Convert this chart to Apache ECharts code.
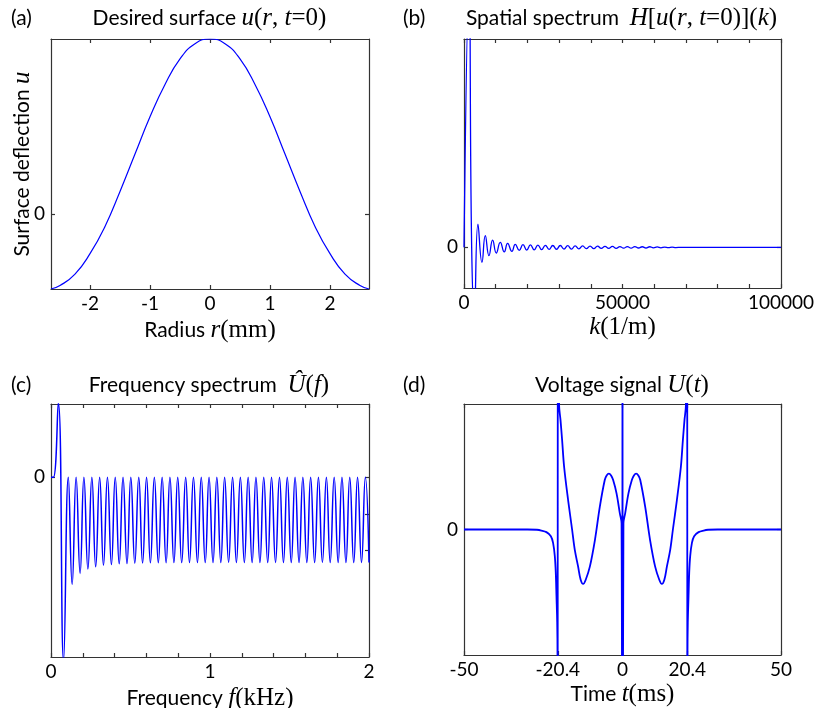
<!DOCTYPE html>
<html><head><meta charset="utf-8">
<script src="https://cdn.jsdelivr.net/npm/echarts@6/dist/echarts.min.js"></script>
<style>html,body{margin:0;padding:0;background:#fff}#c{width:814px;height:708px}</style>
</head><body><div id="c"></div>
<script>
// (a) Desired surface u(r, t=0)
const rA = [-2.65,-2.5,-2.25,-2.0,-1.75,-1.5,-1.25,-1.0,-0.75,-0.5,-0.25,0,
            0.25,0.5,0.75,1.0,1.25,1.5,1.75,2.0,2.25,2.5,2.65];
const uA = [-0.43,-0.41,-0.345,-0.228,-0.072,0.128,0.342,0.555,0.740,0.886,0.973,1.0,
            0.973,0.886,0.740,0.555,0.342,0.128,-0.072,-0.228,-0.345,-0.41,-0.43];
// (b) Spatial spectrum H[u](k)
const kB = [0,1575,2420,3255,4410,5670,6720,7875,9030,10185,11445,12705,13755,15120,16170,17430,
            18606,19782,20958,22134,23310,24486,25662,26838,28014,29190,30366,31542,32718,33894,35070,36246,
            37422,38598,39774,40950,42126,43302,44478,45654,46830,48006,49182,50358,51534,52710,53886,55062,
            56238,57414,58590,59766,60942,62118,63294,64470,65646,66822,68500,100000];
const hB = [0,1.25,0,-0.32,0.112,-0.072,0.056,-0.040,0.035,-0.027,0.024,-0.022,0.019,-0.019,0.0144,-0.0144,
            0.013,-0.013,0.012,-0.012,0.011,-0.011,0.010,-0.010,0.009,-0.009,0.009,-0.008,0.008,-0.008,0.007,-0.007,
            0.007,-0.006,0.006,-0.006,0.006,-0.005,0.005,-0.005,0.005,-0.005,0.004,-0.004,0.004,-0.004,0.004,-0.003,
            0.003,-0.003,0.003,-0.002,0.002,-0.002,0.0015,-0.0015,0.001,-0.001,0,0];
// (c) Frequency spectrum U^(f)
const fC = [0,0.015,0.046,0.079,
  0.109,0.133,0.158,0.183,0.207,0.232,0.257,0.281,0.306,0.330,0.355,0.380,0.404,0.429,0.453,0.478,
  0.502,0.527,0.552,0.576,0.601,0.625,0.650,0.675,0.699,0.724,0.748,0.773,0.797,0.822,0.847,0.871,
  0.896,0.921,0.945,0.970,0.994,1.019,1.043,1.068,1.092,1.117,1.142,1.166,1.191,1.216,1.240,1.265,
  1.289,1.314,1.338,1.363,1.387,1.412,1.437,1.462,1.486,1.511,1.535,1.560,1.584,1.609,1.633,1.658,
  1.682,1.707,1.732,1.756,1.781,1.806,1.830,1.855,1.879,1.904,1.928,1.953,1.977,2.0];
const uC = [0,0,1.02,-2.5,
  0,-1.46,0,-1.31,0,-1.25,0,-1.22,0,-1.20,0,-1.19,0,-1.18,0,-1.175,0,-1.17,0,-1.168,
  0,-1.166,0,-1.165,0,-1.164,0,-1.163,0,-1.163,0,-1.162,0,-1.162,0,-1.161,0,-1.161,0,-1.16,
  0,-1.16,0,-1.16,0,-1.16,0,-1.16,0,-1.16,0,-1.16,0,-1.16,0,-1.16,0,-1.16,0,-1.16,
  0,-1.16,0,-1.16,0,-1.16,0,-1.16,0,-1.16,0,-1.16,0,-1.16,0,-1.16,0,-1.16];
// (d) Voltage signal U(t)
const tD = [-50,-40,-30,-27,-25.6,-24.0,-22.6,-21.9,-21.36,-21.04,-20.83,-20.6,-20.5,-20.45,-20.4,-20.0,-19.56,-19.05,
  -18.42,-17.16,-15.9,-15.05,-14.0,-13.2,-12.4,-11.6,-10.3,-8.7,-7.15,-5.6,-5.0,-4.3,-3.6,-2.95,-1.88,-0.84,-0.3,-0.08,0,
  0.08,0.3,0.84,1.88,2.95,3.6,4.3,5.0,5.6,7.15,8.7,10.3,11.6,12.4,13.2,14.0,15.05,15.9,17.16,18.42,19.05,19.56,20.0,20.4,20.45,
  20.5,20.6,20.83,21.04,21.36,21.9,22.6,24.0,25.6,27,30,40,50];
const uD = [0,0,0,-0.002,-0.008,-0.021,-0.053,-0.106,-0.21,-0.35,-0.53,-0.74,-1.0,-3,3,0.99,0.873,0.713,
  0.50,0.235,0.0,-0.163,-0.296,-0.40,-0.434,-0.40,-0.296,-0.084,0.182,0.394,0.43,0.445,0.43,0.394,0.288,0.129,0.05,-3,3,
  -3,0.05,0.129,0.288,0.394,0.43,0.445,0.43,0.394,0.182,-0.084,-0.296,-0.40,-0.434,-0.40,-0.296,-0.163,0.0,0.235,0.50,0.713,0.873,0.99,3,-3,
  -1.0,-0.74,-0.53,-0.35,-0.21,-0.106,-0.053,-0.021,-0.008,-0.002,0,0,0];

// ticks and labels
const ticksAx = [-2,-1,0,1,2];
const ticksBx = [0,10000,20000,30000,40000,50000,60000,70000,80000,90000,100000];
const labelsBx = [0,50000,100000];
const ticksCx = [0,0.2,0.4,0.6,0.8,1,1.2,1.4,1.6,1.8,2];
const labelsCx = [0,1,2];
const ticksCyRight = [0,-0.5,-1];
const ticksDx = [-50,-20.4,0,20.4,50];
const zeroTick = [0];

const SANS = 'Lato', SERIF = 'Liberation Serif';
const AX = '#333';
const RICH = {
  s:{fontFamily:SANS,fontSize:21,color:'#000'},
  m:{fontFamily:SERIF,fontStyle:'italic',fontSize:25,color:'#000'},
  n:{fontFamily:SERIF,fontSize:25,color:'#000'}
};
const zip = (a,b)=>a.map((v,i)=>[v,b[i]]);

function xAx(g,min,max,ticks,labels,pos,name,gap){
  return {type:'value',gridIndex:g,min,max,position:pos,
    axisLine:{show:true,onZero:false,lineStyle:{color:AX,width:1.2}},
    axisTick:{show:true,inside:true,length:4,customValues:ticks,lineStyle:{color:AX,width:1.2}},
    axisLabel: labels ? {show:true,customValues:labels,margin:5,color:'#000',fontFamily:SANS,fontSize:19,formatter:v=>String(v)} : {show:false},
    splitLine:{show:false},
    name: name||'', nameLocation:'middle', nameGap: gap||30, nameMoveOverlap:false,
    nameTextStyle:{rich:RICH}};
}
function yAx(g,min,max,ticks,labels,pos,name,gap){
  return {type:'value',gridIndex:g,min,max,position:pos,
    axisLine:{show:true,onZero:false,lineStyle:{color:AX,width:1.2}},
    axisTick:{show:true,inside:true,length:4,customValues:ticks,lineStyle:{color:AX,width:1.2}},
    axisLabel: labels ? {show:true,customValues:labels,margin:6,color:'#000',fontFamily:SANS,fontSize:19,formatter:v=>String(v)} : {show:false},
    splitLine:{show:false},
    name: name||'', nameLocation:'middle', nameGap: gap||20, nameRotate:90, nameMoveOverlap:false,
    nameTextStyle:{rich:RICH}};
}
function ser(xi,data,w,sm){
  return {type:'line',xAxisIndex:xi,yAxisIndex:xi,data,showSymbol:false,symbol:'none',smooth:sm,clip:true,
    lineStyle:{color:'#0000ff',width:w},animation:false};
}
function txt(x,y,text,align){
  return {type:'text',x,y,style:{text,rich:RICH,align:align||'center',verticalAlign:'middle',fontFamily:SANS,fontSize:21,fill:'#000'}};
}

const chart = echarts.init(document.getElementById('c'), null, {renderer:'canvas'});
chart.setOption({
  animation:false,
  backgroundColor:'#fff',
  grid:[
    {left:51,top:39,width:318,height:250,containLabel:false,outerBoundsMode:'none'},
    {left:464,top:39,width:317,height:249,containLabel:false,outerBoundsMode:'none'},
    {left:51,top:404,width:318,height:253,containLabel:false,outerBoundsMode:'none'},
    {left:464,top:404,width:317,height:251,containLabel:false,outerBoundsMode:'none'}
  ],
  xAxis:[
    xAx(0,-2.65,2.65,ticksAx,ticksAx,'bottom','{s|Radius }{m|r}{n|(mm)}',29),
    xAx(1,0,100000,ticksBx,labelsBx,'bottom','{m|k}{n|(1/m)}',27),
    xAx(2,0,2,ticksCx,labelsCx,'bottom','{s|Frequency }{m|f}{n|(kHz)}',29),
    xAx(3,-50,50,ticksDx,ticksDx,'bottom','{s|Time }{m|t}{n|(ms)}',27),
    xAx(0,-2.65,2.65,ticksAx,null,'top'),
    xAx(1,0,100000,ticksBx,null,'top'),
    xAx(2,0,2,ticksCx,null,'top'),
    xAx(3,-50,50,ticksDx,null,'top')
  ],
  yAxis:[
    yAx(0,-0.43,1.0,zeroTick,zeroTick,'left','{s|Surface deflection }{m|u}',16),
    yAx(1,-0.195,1.0,zeroTick,zeroTick,'left'),
    yAx(2,-2.45,1.0,zeroTick,zeroTick,'left'),
    yAx(3,-1,1,zeroTick,zeroTick,'left'),
    yAx(0,-0.43,1.0,zeroTick,null,'right'),
    yAx(1,-0.195,1.0,zeroTick,null,'right'),
    yAx(2,-2.45,1.0,ticksCyRight,null,'right'),
    yAx(3,-1,1,zeroTick,null,'right')
  ],
  series:[
    ser(0,zip(rA,uA),1.2,0.5),
    ser(1,zip(kB,hB),1.3,0.5),
    ser(2,zip(fC,uC),1.5,0.5),
    ser(3,zip(tD,uD),1.8,0.35)
  ],
  graphic:[
    txt(11,18,'{s|(a)}','left'),
    txt(403,18,'{s|(b)}','left'),
    txt(11,385,'{s|(c)}','left'),
    txt(403,385,'{s|(d)}','left'),
    txt(209.5,18,'{s|Desired surface }{m|u}{n|(}{m|r}{n|, }{m|t}{n|=0)}'),
    txt(621.5,18,'{s|Spatial spectrum  }{m|H}{n|[}{m|u}{n|(}{m|r}{n|, }{m|t}{n|=0)](}{m|k}{n|)}'),
    txt(209,385,'{s|Frequency spectrum  }{m|Û}{n|(}{m|f}{n|)}'),
    txt(622,385,'{s|Voltage signal }{m|U}{n|(}{m|t}{n|)}')
  ]
});
</script></body></html>
